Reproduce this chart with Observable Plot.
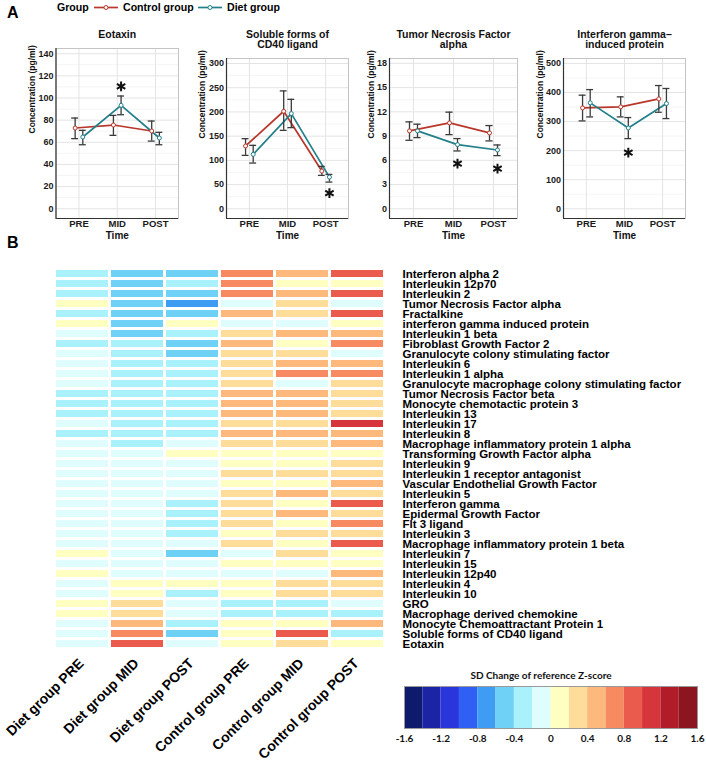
<!DOCTYPE html>
<html><head><meta charset="utf-8">
<script src="https://cdn.jsdelivr.net/npm/d3@7"></script>
<script src="https://cdn.jsdelivr.net/npm/@observablehq/plot@0.6"></script>
<style>
body{margin:0;background:#fff;}
#chart{position:relative;width:706px;height:763px;font-family:"Liberation Sans",Arial,sans-serif;overflow:hidden;}
#chart svg{position:absolute;left:0;}
.tag{position:absolute;font-weight:bold;font-size:16px;line-height:1;}
</style></head><body><div id="chart"></div>
<script>
// ---------- Panel A data ----------
const timePoints = ["PRE", "MID", "POST"];
const groupNames = ["Control group", "Diet group"];
const groupColors = ["#b8372c", "#21808a"];
const panelTitles = ["Eotaxin", "Soluble forms of\nCD40 ligand", "Tumor Necrosis Factor\nalpha", "Interferon gamma\u2013\ninduced protein"];
const yTitle = "Concentration (pg/ml)";
const xTitle = "Time";

const eotaxinTicks = [0, 20, 40, 60, 80, 100, 120, 140];
const eotaxinControlMean = [72.9, 75.6, 70.2];
const eotaxinControlLow = [63.3, 66.3, 61.1];
const eotaxinControlHigh = [81.9, 84.3, 79.2];
const eotaxinDietMean = [64.8, 93.4, 63.9];
const eotaxinDietLow = [57.8, 84.9, 57.8];
const eotaxinDietHigh = [70.8, 101.8, 69.0];
const eotaxinStars = [{time: "MID", value: 110.5}];

const cd40Ticks = [0, 50, 100, 150, 200, 250, 300];
const cd40ControlMean = [129.7, 201.4, 77.9];
const cd40ControlLow = [110.3, 162, 69];
const cd40ControlHigh = [144.8, 243.4, 87.6];
const cd40DietMean = [112.4, 196.6, 65.5];
const cd40DietLow = [94.5, 167.6, 55.2];
const cd40DietHigh = [131, 226, 71];
const cd40Stars = [{time: "POST", value: 32.4}];

const tnfTicks = [0, 3, 6, 9, 12, 15, 18];
const tnfControlMean = [9.64, 10.63, 9.39];
const tnfControlLow = [8.48, 9.18, 8.4];
const tnfControlHigh = [10.76, 11.96, 10.3];
const tnfDietMean = [9.64, 7.94, 7.28];
const tnfDietLow = [8.81, 7.16, 6.58];
const tnfDietHigh = [10.47, 8.69, 7.9];
const tnfStars = [{time: "MID", value: 5.59}, {time: "POST", value: 4.97}];

const ipTicks = [0, 100, 200, 300, 400, 500];
const ipControlMean = [347, 350.6, 378];
const ipControlLow = [302.3, 316, 332];
const ipControlHigh = [390.8, 385, 424];
const ipDietMean = [364.4, 278, 362];
const ipDietLow = [316, 241.4, 310.3];
const ipDietHigh = [410, 313.8, 413.8];
const ipStars = [{time: "MID", value: 193}];

// ---------- Panel B data ----------
const genes = ["Interferon alpha 2", "Interleukin 12p70", "Interleukin 2", "Tumor Necrosis Factor alpha", "Fractalkine",
  "interferon gamma induced protein", "Interleukin 1 beta", "Fibroblast Growth Factor 2", "Granulocyte colony stimulating factor",
  "Interleukin 6", "Interleukin 1 alpha", "Granulocyte macrophage colony stimulating factor", "Tumor Necrosis Factor beta",
  "Monocyte chemotactic protein 3", "Interleukin 13", "Interleukin 17", "Interleukin 8", "Macrophage inflammatory protein 1 alpha",
  "Transforming Growth Factor alpha", "Interleukin 9", "Interleukin 1 receptor antagonist", "Vascular Endothelial Growth Factor",
  "Interleukin 5", "Interferon gamma", "Epidermal Growth Factor", "Flt 3 ligand", "Interleukin 3",
  "Macrophage inflammatory protein 1 beta", "Interleukin 7", "Interleukin 15", "Interleukin 12p40", "Interleukin 4",
  "Interleukin 10", "GRO", "Macrophage derived chemokine", "Monocyte Chemoattractant Protein 1", "Soluble forms of CD40 ligand", "Eotaxin"];
const heatColumns = ["Diet group PRE", "Diet group MID", "Diet group POST", "Control group PRE", "Control group MID", "Control group POST"];
const dietPre = [-0.3,-0.3,-0.3,0.1,-0.3,0.1,-0.1,-0.3,-0.1,-0.1,-0.1,-0.1,-0.3,-0.3,-0.3,-0.1,-0.3,-0.1,-0.1,-0.1,-0.1,-0.1,-0.1,-0.1,-0.1,-0.1,-0.1,-0.1,0.1,-0.1,0.1,-0.1,-0.1,0.1,0.1,-0.1,-0.1,-0.1];
const dietMid = [-0.5,-0.5,-0.5,-0.5,-0.5,-0.5,-0.5,-0.3,-0.3,-0.3,-0.3,-0.3,-0.3,-0.3,-0.3,-0.3,-0.3,-0.3,-0.1,-0.1,-0.1,-0.1,-0.1,-0.1,-0.1,-0.1,-0.1,-0.1,-0.1,-0.1,-0.1,0.1,0.1,0.3,0.3,0.5,0.7,0.9];
const dietPost = [-0.5,-0.3,-0.5,-0.7,-0.5,0.1,-0.3,-0.5,-0.5,-0.3,-0.3,-0.3,-0.3,-0.3,-0.3,-0.3,-0.3,-0.1,0.1,-0.1,-0.1,-0.1,-0.1,-0.3,-0.3,-0.3,-0.3,-0.1,-0.5,-0.1,-0.1,0.1,-0.3,-0.1,-0.1,-0.3,-0.5,-0.1];
const controlPre = [0.7,0.7,0.7,-0.1,0.5,-0.1,0.3,0.5,0.3,0.3,0.3,0.3,0.5,0.5,0.5,0.3,0.5,0.3,0.1,0.1,0.3,0.1,0.3,0.3,0.3,0.3,0.1,0.3,-0.1,0.1,-0.1,0.1,0.1,-0.3,-0.3,0.1,0.1,0.1];
const controlMid = [0.5,0.1,0.5,0.3,0.3,-0.1,0.5,0.1,0.3,0.5,0.7,-0.1,0.5,0.5,0.5,0.3,0.5,0.3,0.1,0.1,0.3,0.1,0.5,0.1,0.5,0.1,0.3,0.1,0.3,0.1,-0.1,0.3,0.3,-0.3,-0.3,0.1,0.9,0.3];
const controlPost = [0.9,0.1,0.9,-0.1,0.9,0.1,0.5,0.7,-0.1,0.5,0.7,0.3,0.3,0.3,0.3,1.1,0.5,0.5,0.1,0.3,0.3,0.5,0.3,0.9,0.3,0.7,0.3,0.9,0.1,0.1,0.5,0.3,0.3,-0.1,-0.3,0.5,-0.3,0.1];
const heatValues = [dietPre, dietMid, dietPost, controlPre, controlMid, controlPost];

const zBreaks = [-1.6,-1.4,-1.2,-1.0,-0.8,-0.6,-0.4,-0.2,0,0.2,0.4,0.6,0.8,1.0,1.2,1.4,1.6];
const zColors = ["#0e1a6c","#1c24a6","#2a36dc","#2f60f3","#3f9cf3","#6fd1f6","#aaf2fb","#e0fdfd",
  "#ffffc2","#fedc99","#fdb87b","#f88a61","#ea5a4d","#d6353b","#b11c28","#8b1620"];
const zTicks = [-1.6,-1.2,-0.8,-0.4,0,0.4,0.8,1.2,1.6];
const zTitle = "SD Change of reference Z-score";

// ---------- layout ----------
const W = 706;
const FONT = '"Liberation Sans", Arial, sans-serif';
const chart = document.getElementById("chart");
const dodge = 0.1, capHalf = 0.09;

const panels = [
  {title: panelTitles[0], ticks: eotaxinTicks, stars: eotaxinStars,
   series: [{mean: eotaxinControlMean, low: eotaxinControlLow, high: eotaxinControlHigh}, {mean: eotaxinDietMean, low: eotaxinDietLow, high: eotaxinDietHigh}]},
  {title: panelTitles[1], ticks: cd40Ticks, stars: cd40Stars,
   series: [{mean: cd40ControlMean, low: cd40ControlLow, high: cd40ControlHigh}, {mean: cd40DietMean, low: cd40DietLow, high: cd40DietHigh}]},
  {title: panelTitles[2], ticks: tnfTicks, stars: tnfStars,
   series: [{mean: tnfControlMean, low: tnfControlLow, high: tnfControlHigh}, {mean: tnfDietMean, low: tnfDietLow, high: tnfDietHigh}]},
  {title: panelTitles[3], ticks: ipTicks, stars: ipStars,
   series: [{mean: ipControlMean, low: ipControlLow, high: ipControlHigh}, {mean: ipDietMean, low: ipDietLow, high: ipDietHigh}]}
];
const panelLayout = [
  {left: 55.5, right: 178, top: 48, bottom: 218, domain: [-8.8, 144.7], titleDx: -23.5},
  {left: 226, right: 348, top: 58, bottom: 218, domain: [-20, 310.3], titleDx: -24.3},
  {left: 389, right: 517, top: 58, bottom: 218, domain: [-1.2, 18.6], titleDx: -18.3},
  {left: 563, right: 685, top: 58, bottom: 218, domain: [-33.5, 517], titleDx: -23}
];
const PH = 250;

panels.forEach((p, k) => {
  const L = panelLayout[k];
  const rows = [];
  p.series.forEach((s, gi) => s.mean.forEach((m, i) => rows.push({
    group: groupNames[gi], t: i + 1 + (gi === 0 ? -dodge : dodge), mean: m, lo: s.low[i], hi: s.high[i]})));
  const minor = p.ticks.slice(0, -1).map((t, i) => (t + p.ticks[i + 1]) / 2);
  const starRows = p.stars.map(s => ({t: timePoints.indexOf(s.time) + 1 + dodge, v: s.value}));
  const nLines = p.title.split("\n").length;
  const svg = Plot.plot({
    width: W, height: PH,
    marginLeft: L.left, marginRight: W - L.right, marginTop: L.top, marginBottom: PH - L.bottom,
    x: {domain: [0.4, 3.6], axis: null},
    y: {domain: L.domain, axis: null},
    color: {domain: groupNames, range: groupColors},
    style: {background: "transparent", overflow: "visible", fontFamily: FONT},
    marks: [
      Plot.ruleY(minor, {stroke: "#f2f2f2", strokeWidth: 0.8}),
      Plot.ruleY(p.ticks, {stroke: "#e4e4e4", strokeWidth: 1}),
      Plot.ruleX([1, 2, 3], {stroke: "#e4e4e4", strokeWidth: 1}),
      Plot.frame({stroke: "#c4c4c4"}),
      Plot.ruleX([0.4], {stroke: "#333", strokeWidth: 1.2}),
      Plot.ruleY([L.domain[0]], {stroke: "#333", strokeWidth: 1.2}),
      Plot.line(rows, {x: "t", y: "mean", stroke: "group", z: "group", strokeWidth: 1.7}),
      Plot.ruleX(rows, {x: "t", y1: "lo", y2: "hi", stroke: "#3a3a3a", strokeWidth: 1.3}),
      Plot.ruleY(rows, {y: "hi", x1: d => d.t - capHalf, x2: d => d.t + capHalf, stroke: "#3a3a3a", strokeWidth: 1.3}),
      Plot.ruleY(rows, {y: "lo", x1: d => d.t - capHalf, x2: d => d.t + capHalf, stroke: "#3a3a3a", strokeWidth: 1.3}),
      Plot.dot(rows, {x: "t", y: "mean", stroke: "group", fill: "white", r: 2, strokeWidth: 1}),
      Plot.dot(starRows, {x: "t", y: "v", symbol: "asterisk", r: 4.6, stroke: "#111", strokeWidth: 2}),
      Plot.text(p.ticks, {y: d => d, text: d => String(d), frameAnchor: "left", textAnchor: "end", dx: -2.5, fontSize: 9, fontWeight: "bold", fill: "#1a1a1a"}),
      Plot.text(timePoints, {x: (d, i) => i + 1, frameAnchor: "bottom", dy: 5.5, lineAnchor: "middle", fontSize: 9.5, fontWeight: "bold", fill: "#1a1a1a"}),
      Plot.text([p.title], {frameAnchor: "top", dy: 34 + (nLines - 1) * 5.25 - L.top, lineAnchor: "middle", lineHeight: 1, fontSize: 10.5, fontWeight: "bold", fill: "#111"}),
      Plot.text([yTitle], {frameAnchor: "left", dx: L.titleDx, rotate: -90, fontSize: 8.5, fontWeight: "bold", fill: "#111"}),
      Plot.text([xTitle], {frameAnchor: "bottom", dy: 17, lineAnchor: "middle", fontSize: 10, fontWeight: "bold", fill: "#111"})
    ]
  });
  svg.style.top = "0px";
  chart.appendChild(svg);
});

// ---------- legend (top) ----------
const leg = d3.create("svg").attr("width", W).attr("height", 20)
  .style("top", "0px").style("font-family", FONT).style("font-weight", "bold").style("font-size", "10.6px");
leg.append("text").attr("x", 57).attr("y", 11.3).text("Group");
const legItems = [{x: 94, tx: 123}, {x: 198, tx: 227}];
groupNames.forEach((g, i) => {
  const it = legItems[i];
  leg.append("line").attr("x1", it.x).attr("x2", it.x + 24).attr("y1", 7.5).attr("y2", 7.5)
    .attr("stroke", groupColors[i]).attr("stroke-width", 1.7);
  leg.append("circle").attr("cx", it.x + 12).attr("cy", 7.5).attr("r", 2)
    .attr("fill", "white").attr("stroke", groupColors[i]).attr("stroke-width", 1);
  leg.append("text").attr("x", it.tx).attr("y", 11.3).text(g);
});
chart.appendChild(leg.node());

// ---------- heatmap ----------
const heatCells = [];
heatColumns.forEach((col, j) => genes.forEach((g, i) => heatCells.push({col, gene: g, value: heatValues[j][i]})));
const zScale = {type: "threshold", domain: zBreaks.slice(1, -1), range: zColors};
const HH = 508, HTOP = 255;
const heat = Plot.plot({
  width: W, height: HH,
  marginLeft: 52.7, marginRight: W - 386, marginTop: 9.3, marginBottom: 109.4,
  x: {domain: heatColumns, padding: 0.06, axis: null},
  y: {domain: genes, padding: 0.28, axis: null},
  color: zScale,
  style: {background: "transparent", overflow: "visible", fontFamily: FONT},
  marks: [
    Plot.cell(heatCells, {x: "col", y: "gene", fill: "value"}),
    Plot.text(genes, {y: d => d, frameAnchor: "right", textAnchor: "start", dx: 16, fontSize: 11.5, fontWeight: "bold", fill: "#000"}),
    Plot.text(heatColumns, {x: d => d, frameAnchor: "bottom", rotate: -45, textAnchor: "end", lineAnchor: "middle", dy: 7, dx: -1, fontSize: 14, fontWeight: "bold", fill: "#000"})
  ]
});
heat.style.top = HTOP + "px";
chart.appendChild(heat);

// ---------- colour bar ----------
const zBins = zColors.map((c, i) => ({lo: zBreaks[i], hi: zBreaks[i + 1]}));
const BH = 148, BTOP = 615;
const bar = Plot.plot({
  width: W, height: BH,
  marginLeft: 404, marginRight: W - 697, marginTop: 71, marginBottom: 35,
  x: {domain: [zBreaks[0], zBreaks[zBreaks.length - 1]], axis: null},
  color: zScale,
  style: {background: "transparent", overflow: "visible", fontFamily: "Lato, 'Open Sans', sans-serif"},
  marks: [
    Plot.rect(zBins, {x1: "lo", x2: "hi", fill: d => (d.lo + d.hi) / 2}),
    Plot.frame({stroke: "#9a9a9a"}),
    Plot.text(zTicks, {x: d => d, text: d => String(d), frameAnchor: "bottom", dy: 10, lineAnchor: "middle", fontSize: 10, fontWeight: "bold", fill: "#111"}),
    Plot.text([zTitle], {frameAnchor: "top", dy: -11, dx: -10, lineAnchor: "middle", fontSize: 10, fontWeight: "bold", fill: "#111"})
  ]
});
bar.style.top = BTOP + "px";
chart.appendChild(bar);

// ---------- panel tags ----------
[["A", 7, 5], ["B", 7, 235]].forEach(([t, x, y]) => {
  const d = document.createElement("div");
  d.className = "tag"; d.textContent = t;
  d.style.left = x + "px"; d.style.top = y + "px";
  chart.appendChild(d);
});
</script></body></html>
